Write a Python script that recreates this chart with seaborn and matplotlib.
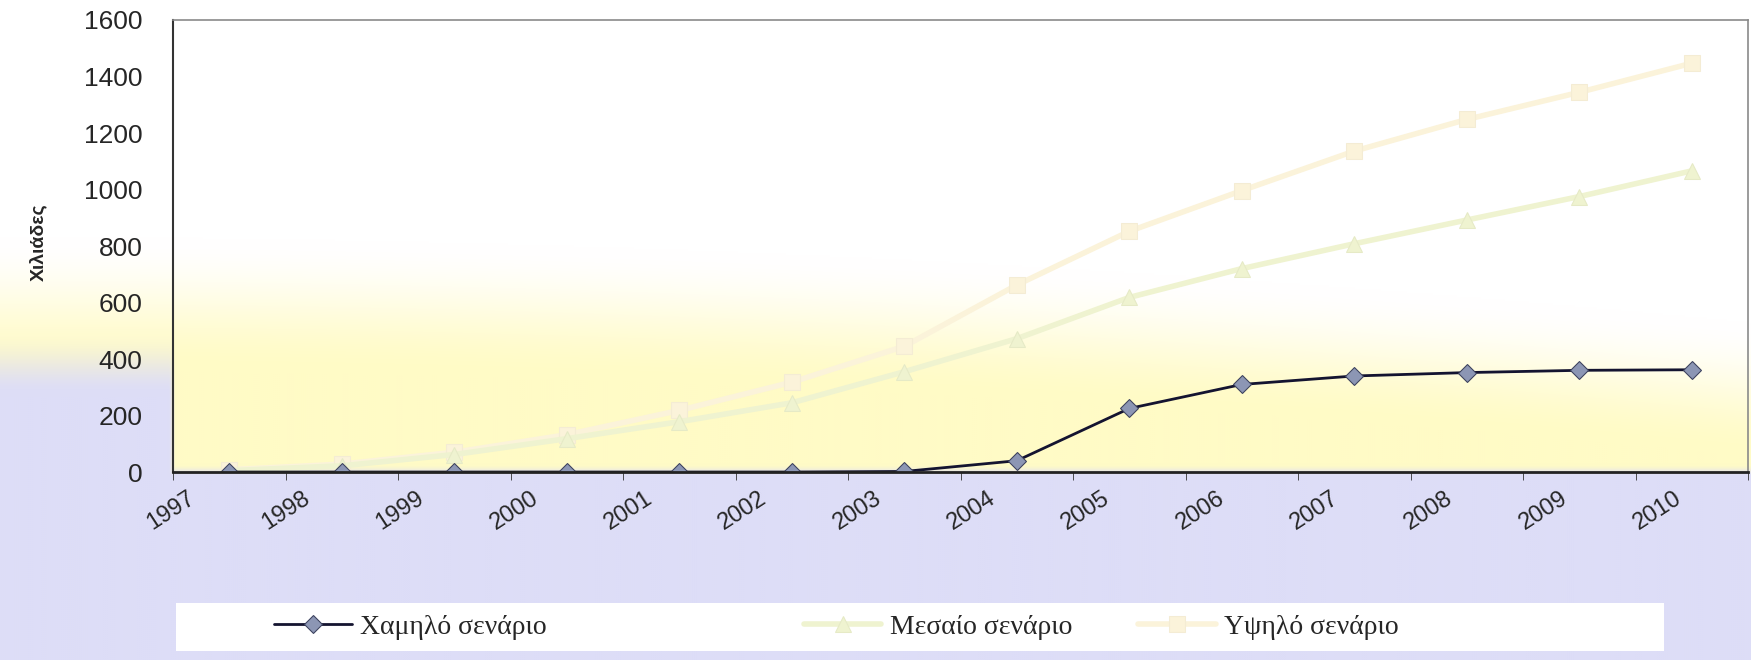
import numpy as np
import pandas as pd
import matplotlib
matplotlib.use("Agg")
import matplotlib.pyplot as plt
import matplotlib.transforms as mtransforms
from matplotlib.patches import Rectangle
import seaborn as sns

# Data (thousands)
years = ["1997", "1998", "1999", "2000", "2001", "2002", "2003",
         "2004", "2005", "2006", "2007", "2008", "2009", "2010"]
low = [0, 0, 0, 0, 0, 0, 2, 40, 225, 310, 340, 352, 360, 362]
medium = [5, 22, 62, 118, 178, 245, 355, 472, 618, 720, 808, 892, 975, 1066]
high = [8, 28, 70, 132, 218, 318, 445, 662, 852, 996, 1136, 1248, 1344, 1447]
labels = ["Χαμηλό σενάριο", "Μεσαίο σενάριο", "Υψηλό σενάριο"]

sns.set_style("white")
plt.rcParams["font.family"] = ["Liberation Sans", "DejaVu Sans"]

fig = plt.figure(figsize=(17.51, 6.6), dpi=100)

# background gradient (white -> pale yellow -> lavender)
bg = fig.add_axes([0, 0, 1, 1], zorder=-10)
H, W = 330, 875
v, u = np.mgrid[0:1:H * 1j, 0:1:W * 1j]


def smooth(x, a, b):
    t = np.clip((x - a) / (b - a), 0, 1)
    return t * t * (3 - 2 * t)


white = np.array([1.0, 1.0, 1.0])
yellow = np.array([255, 251, 198]) / 255
lav = np.array([221, 221, 247]) / 255
start = 0.36 + 0.13 * u ** 2
wy = smooth(v, start, start + 0.2)
wl = np.maximum(smooth(v, 0.705, 0.722),
                smooth(v, 0.5, 0.6) * smooth(u, 0.1, 0.096))
img = white * (1 - wy)[..., None] + yellow * wy[..., None]
img = img * (1 - wl)[..., None] + lav * wl[..., None]
bg.imshow(img, aspect="auto", extent=[0, 1, 0, 1], origin="upper",
          interpolation="bilinear")
bg.set_xlim(0, 1)
bg.set_ylim(0, 1)
bg.axis("off")
# legend box
bg.add_patch(Rectangle((0.1005, 0.0136), 0.8497, 0.0727,
                       transform=bg.transAxes, facecolor="white",
                       edgecolor="none"))

ax = fig.add_axes([0.0988, 0.2848, 0.8995, 0.6849])
ax.patch.set_alpha(0)

x = np.arange(len(years))
df = pd.DataFrame({"pos": x, "low": low, "medium": medium, "high": high})

sns.lineplot(data=df, x="pos", y="high", ax=ax, color="#fbf3da", linewidth=4,
             marker="s", markersize=11, markerfacecolor="#fbf3da",
             markeredgecolor="#f4ecd4", label=labels[2])
sns.lineplot(data=df, x="pos", y="medium", ax=ax, color="#eff3d0", linewidth=4,
             marker="^", markersize=12, markerfacecolor="#eff3d0",
             markeredgecolor="#e6eac6", label=labels[1])
sns.lineplot(data=df, x="pos", y="low", ax=ax, color="#141430", linewidth=2,
             marker="D", markersize=9, markerfacecolor="#8c96b4",
             markeredgecolor="#3a3f5c", label=labels[0])

handles, labs = ax.get_legend_handles_labels()
hmap = dict(zip(labs, handles))
ax.get_legend().remove()

ax.set_xlim(-0.5, len(years) - 0.5)
ax.set_ylim(0, 1600)
ax.set_yticks(range(0, 1601, 200))
ax.set_xticks(x)
ax.set_xticklabels(years, rotation=33, ha="right", rotation_mode="anchor")
ax.set_xticks(np.arange(-0.5, len(years), 1), minor=True)
ax.tick_params(axis="x", which="major", length=0, pad=2, labelsize=17)
ax.tick_params(axis="x", which="minor", length=6, direction="out",
               color="#333333", bottom=True)
ax.tick_params(axis="y", length=0, pad=22, labelsize=19)
ax.set_xlabel("")
ax.set_ylabel("")

# shift the slanted year labels (after tick_params, which resets transforms)
for i, lbl in enumerate(ax.get_xticklabels()):
    dx = (-42 + 1.85 * i) / 100
    off = mtransforms.ScaledTranslation(dx, -0.12, fig.dpi_scale_trans)
    lbl.set_transform(lbl.get_transform() + off)

for side in ["top", "right"]:
    ax.spines[side].set_color("#8a8a8a")
    ax.spines[side].set_linewidth(1.2)
ax.spines["left"].set_color("#333333")
ax.spines["left"].set_linewidth(1.5)
ax.spines["bottom"].set_color("#222222")
ax.spines["bottom"].set_linewidth(2)

fig.text(0.022, 0.633, "Χιλιάδες", rotation=90, fontweight="bold",
         fontsize=14, ha="center", va="center")

for lab, xpos in zip(labels, [0.1565, 0.459, 0.650]):
    fig.legend([hmap[lab]], [lab], loc="center left",
               bbox_to_anchor=(xpos, 0.05), frameon=False, borderpad=0,
               borderaxespad=0, handlelength=2.8, handletextpad=0.3,
               prop={"family": "Liberation Serif", "size": 20})

fig.savefig("out.png", dpi=100)
